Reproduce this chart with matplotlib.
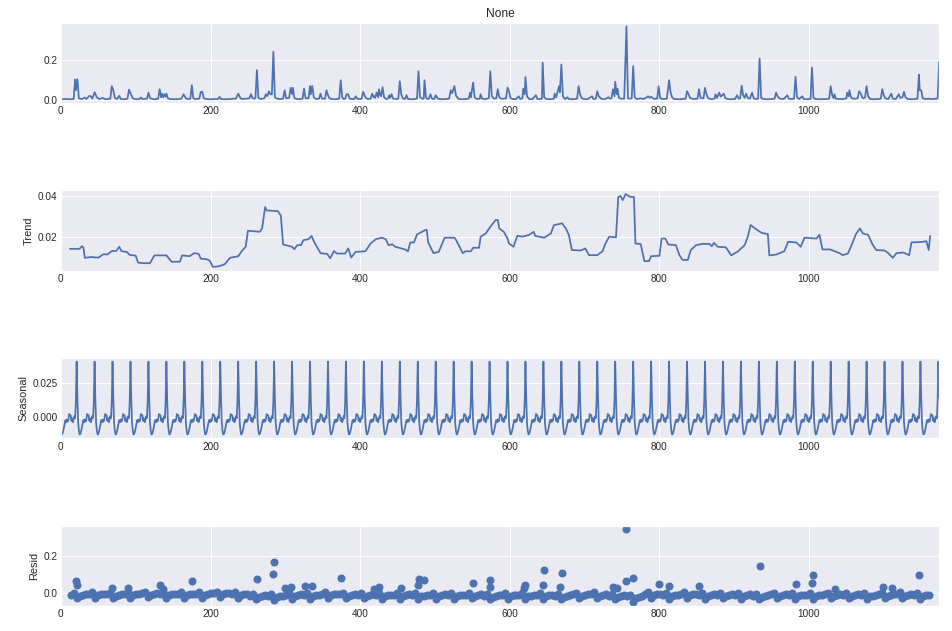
import matplotlib
matplotlib.use("Agg")
import matplotlib.pyplot as plt
import numpy as np
import seaborn as sns

# ---- data ----
n_obs = 1175
x_ticks = [0, 200, 400, 600, 800, 1000]
panel_labels = ["", "Trend", "Seasonal", "Resid"]
title = "None"
y_ticks = [[0.0, 0.2], [0.02, 0.04], [0.0, 0.025], [0.0, 0.2]]
y_ticklabels = [["0.0", "0.2"], ["0.02", "0.04"], ["0.000", "0.025"], ["0.0", "0.2"]]

# observed series (x, value)
observed = [
    (0, 0.005), (6, 0.006), (12, 0.005), (17, 0.006), (19, 0.103), (20, 0.050), (22, 0.105), (24, 0.010),
    (28, 0.006), (32, 0.014), (34, 0.006), (38, 0.022), (40, 0.020), (42, 0.008), (45, 0.040), (48, 0.015),
    (51, 0.006), (56, 0.012), (59, 0.005), (63, 0.007), (66, 0.008), (68, 0.070), (70, 0.050), (72, 0.012),
    (75, 0.006), (78, 0.022), (80, 0.006), (85, 0.005), (89, 0.008), (91, 0.053), (93, 0.035), (96, 0.010),
    (99, 0.006), (104, 0.005), (107, 0.014), (109, 0.006), (115, 0.008), (117, 0.038), (119, 0.012), (122, 0.006),
    (126, 0.005), (130, 0.008), (132, 0.055), (134, 0.015), (135, 0.033), (137, 0.015), (138, 0.030), (140, 0.018),
    (141, 0.033), (143, 0.010), (146, 0.006), (152, 0.005), (157, 0.006), (161, 0.008), (164, 0.030), (167, 0.010),
    (170, 0.006), (173, 0.008), (175, 0.075), (177, 0.010), (180, 0.006), (185, 0.008), (187, 0.042), (189, 0.042),
    (191, 0.010), (194, 0.006), (200, 0.005), (206, 0.006), (210, 0.006), (212, 0.017), (214, 0.006), (220, 0.005),
    (226, 0.006), (230, 0.008), (234, 0.008), (237, 0.033), (240, 0.010), (243, 0.006), (248, 0.008), (252, 0.010),
    (254, 0.030), (256, 0.012), (258, 0.008), (260, 0.010), (262, 0.150), (264, 0.012), (267, 0.006), (272, 0.010),
    (274, 0.030), (276, 0.020), (278, 0.045), (280, 0.030), (282, 0.030), (284, 0.242), (286, 0.015), (289, 0.008),
    (293, 0.006), (297, 0.008), (299, 0.050), (301, 0.010), (305, 0.012), (307, 0.062), (309, 0.030), (310, 0.062),
    (312, 0.012), (315, 0.006), (319, 0.006), (323, 0.008), (325, 0.058), (327, 0.010), (331, 0.010), (333, 0.071),
    (334, 0.030), (336, 0.071), (338, 0.015), (341, 0.006), (345, 0.008), (347, 0.033), (349, 0.008), (353, 0.008),
    (355, 0.050), (357, 0.025), (359, 0.010), (362, 0.006), (367, 0.005), (372, 0.008), (374, 0.100), (376, 0.015),
    (378, 0.006), (380, 0.008), (382, 0.030), (384, 0.030), (386, 0.008), (390, 0.006), (392, 0.006), (394, 0.020),
    (396, 0.008), (400, 0.006), (402, 0.008), (404, 0.042), (407, 0.015), (410, 0.006), (414, 0.008), (416, 0.033),
    (418, 0.015), (419, 0.020), (420, 0.012), (422, 0.038), (424, 0.015), (425, 0.055), (427, 0.025), (428, 0.020),
    (430, 0.065), (432, 0.015), (435, 0.006), (437, 0.008), (439, 0.025), (440, 0.012), (442, 0.030), (444, 0.008),
    (448, 0.006), (451, 0.008), (453, 0.095), (455, 0.030), (457, 0.010), (460, 0.006), (462, 0.025), (464, 0.006),
    (470, 0.005), (476, 0.008), (478, 0.145), (480, 0.015), (483, 0.008), (485, 0.008), (486, 0.100), (488, 0.015),
    (490, 0.006), (492, 0.008), (494, 0.030), (496, 0.008), (499, 0.006), (501, 0.025), (504, 0.008), (509, 0.005),
    (514, 0.006), (519, 0.008), (521, 0.050), (523, 0.035), (526, 0.071), (528, 0.025), (531, 0.008), (536, 0.005),
    (541, 0.006), (545, 0.008), (547, 0.038), (548, 0.015), (551, 0.088), (553, 0.015), (556, 0.006), (560, 0.008),
    (561, 0.030), (563, 0.008), (567, 0.006), (572, 0.010), (574, 0.145), (576, 0.020), (579, 0.008), (582, 0.010),
    (584, 0.055), (586, 0.015), (589, 0.008), (592, 0.008), (595, 0.010), (597, 0.063), (599, 0.045), (601, 0.012),
    (604, 0.006), (608, 0.005), (612, 0.020), (614, 0.006), (617, 0.010), (618, 0.058), (620, 0.030), (621, 0.116),
    (623, 0.020), (626, 0.006), (630, 0.005), (635, 0.025), (637, 0.006), (640, 0.006), (643, 0.008), (644, 0.187),
    (646, 0.015), (649, 0.006), (654, 0.005), (659, 0.008), (660, 0.033), (662, 0.015), (666, 0.070), (667, 0.040),
    (669, 0.178), (671, 0.020), (674, 0.006), (677, 0.015), (679, 0.006), (684, 0.005), (690, 0.008), (692, 0.070),
    (694, 0.030), (696, 0.012), (699, 0.006), (704, 0.005), (710, 0.020), (712, 0.006), (715, 0.008), (717, 0.045),
    (719, 0.020), (722, 0.008), (727, 0.005), (732, 0.015), (734, 0.008), (736, 0.010), (738, 0.055), (740, 0.020),
    (741, 0.092), (743, 0.030), (744, 0.057), (746, 0.012), (749, 0.008), (753, 0.008), (756, 0.368), (758, 0.010),
    (761, 0.008), (763, 0.010), (765, 0.170), (767, 0.015), (770, 0.006), (775, 0.010), (778, 0.006), (782, 0.012),
    (785, 0.020), (787, 0.012), (789, 0.018), (792, 0.008), (797, 0.008), (799, 0.070), (801, 0.010), (805, 0.006),
    (810, 0.008), (813, 0.100), (815, 0.040), (817, 0.015), (820, 0.006), (826, 0.005), (831, 0.006), (835, 0.008),
    (837, 0.045), (839, 0.030), (841, 0.012), (845, 0.006), (851, 0.008), (853, 0.055), (855, 0.012), (859, 0.010),
    (861, 0.062), (863, 0.030), (865, 0.012), (868, 0.006), (871, 0.006), (874, 0.010), (875, 0.030), (877, 0.012),
    (880, 0.038), (882, 0.018), (886, 0.033), (888, 0.012), (891, 0.006), (896, 0.005), (901, 0.006), (904, 0.025),
    (906, 0.008), (908, 0.010), (910, 0.073), (912, 0.025), (914, 0.012), (916, 0.033), (918, 0.012), (921, 0.008),
    (924, 0.038), (926, 0.010), (929, 0.006), (932, 0.008), (934, 0.208), (936, 0.012), (939, 0.006), (944, 0.005),
    (950, 0.006), (954, 0.008), (956, 0.038), (958, 0.020), (961, 0.008), (966, 0.006), (971, 0.025), (973, 0.008),
    (977, 0.006), (980, 0.008), (982, 0.117), (984, 0.015), (987, 0.006), (991, 0.020), (993, 0.006), (998, 0.005),
    (1002, 0.006), (1004, 0.163), (1006, 0.012), (1009, 0.006), (1014, 0.005), (1020, 0.006), (1024, 0.006),
    (1027, 0.008), (1029, 0.070), (1031, 0.025), (1033, 0.010), (1034, 0.030), (1036, 0.008), (1041, 0.006),
    (1046, 0.006), (1050, 0.010), (1051, 0.038), (1053, 0.020), (1054, 0.050), (1056, 0.015), (1059, 0.008),
    (1062, 0.008), (1065, 0.010), (1067, 0.045), (1069, 0.035), (1071, 0.015), (1073, 0.010), (1075, 0.015),
    (1077, 0.070), (1079, 0.020), (1082, 0.006), (1087, 0.005), (1092, 0.006), (1096, 0.008), (1098, 0.055),
    (1100, 0.025), (1102, 0.010), (1106, 0.006), (1110, 0.033), (1112, 0.008), (1116, 0.006), (1120, 0.030),
    (1122, 0.012), (1125, 0.015), (1127, 0.042), (1129, 0.015), (1132, 0.006), (1137, 0.005), (1141, 0.006),
    (1145, 0.008), (1147, 0.128), (1148, 0.050), (1150, 0.050), (1152, 0.010), (1156, 0.006), (1160, 0.008),
    (1164, 0.006), (1168, 0.007), (1171, 0.008), (1172, 0.010), (1174, 0.190),
]

# trend (x, value)
trend = [
    (12, 0.0143), (25, 0.0143), (28, 0.0156), (30, 0.0150), (32, 0.0099), (40, 0.0103), (50, 0.0100), (57, 0.0117),
    (62, 0.0115), (68, 0.0132), (74, 0.0133), (78, 0.0153), (81, 0.0131), (88, 0.0128), (92, 0.0113), (100, 0.0110),
    (103, 0.0076), (110, 0.0073), (119, 0.0073), (125, 0.0111), (141, 0.0111), (148, 0.0080), (159, 0.0080),
    (162, 0.0111), (172, 0.0107), (178, 0.0122), (184, 0.0119), (187, 0.0095), (195, 0.0092), (199, 0.0085),
    (203, 0.0055), (211, 0.0058), (219, 0.0068), (226, 0.0099), (237, 0.0107), (242, 0.0133), (247, 0.0153),
    (250, 0.0231), (266, 0.0226), (269, 0.0244), (273, 0.0346), (275, 0.0330), (287, 0.0327), (290, 0.0327),
    (294, 0.0304), (297, 0.0164), (309, 0.0153), (312, 0.0141), (316, 0.0161), (321, 0.0161), (324, 0.0185),
    (331, 0.0190), (335, 0.0206), (338, 0.0180), (347, 0.0122), (356, 0.0118), (360, 0.0097), (365, 0.0132),
    (369, 0.0120), (380, 0.0120), (384, 0.0145), (388, 0.0101), (394, 0.0128), (407, 0.0131), (414, 0.0169),
    (421, 0.0190), (429, 0.0197), (434, 0.0190), (438, 0.0161), (443, 0.0165), (447, 0.0153), (460, 0.0140),
    (464, 0.0131), (467, 0.0174), (472, 0.0174), (476, 0.0213), (487, 0.0234), (489, 0.0236), (491, 0.0174),
    (498, 0.0122), (505, 0.0128), (513, 0.0197), (525, 0.0197), (527, 0.0194), (534, 0.0145), (537, 0.0122),
    (541, 0.0131), (548, 0.0131), (551, 0.0148), (559, 0.0148), (561, 0.0202), (568, 0.0218), (574, 0.0250),
    (581, 0.0283), (584, 0.0283), (586, 0.0242), (592, 0.0226), (597, 0.0193), (599, 0.0169), (605, 0.0153),
    (610, 0.0206), (617, 0.0202), (626, 0.0211), (632, 0.0226), (634, 0.0206), (646, 0.0197), (655, 0.0218),
    (659, 0.0258), (670, 0.0267), (675, 0.0242), (679, 0.0211), (683, 0.0137), (695, 0.0135), (701, 0.0145),
    (706, 0.0112), (717, 0.0112), (724, 0.0131), (728, 0.0169), (733, 0.0202), (742, 0.0199), (745, 0.0395),
    (748, 0.0400), (751, 0.0380), (755, 0.0410), (760, 0.0397), (766, 0.0395), (768, 0.0169), (775, 0.0166),
    (780, 0.0083), (786, 0.0083), (789, 0.0107), (800, 0.0109), (803, 0.0193), (808, 0.0193), (812, 0.0164),
    (822, 0.0161), (827, 0.0111), (831, 0.0089), (838, 0.0089), (842, 0.0137), (849, 0.0161), (858, 0.0167),
    (867, 0.0167), (870, 0.0155), (873, 0.0172), (878, 0.0153), (889, 0.0150), (896, 0.0111), (905, 0.0130),
    (914, 0.0161), (918, 0.0200), (922, 0.0259), (929, 0.0239), (937, 0.0220), (945, 0.0215), (947, 0.0111),
    (956, 0.0115), (967, 0.0131), (972, 0.0177), (983, 0.0174), (989, 0.0153), (994, 0.0197), (1010, 0.0193),
    (1014, 0.0211), (1018, 0.0140), (1028, 0.0140), (1041, 0.0122), (1045, 0.0112), (1052, 0.0120), (1056, 0.0153),
    (1063, 0.0216), (1068, 0.0242), (1072, 0.0218), (1079, 0.0211), (1085, 0.0164), (1090, 0.0137), (1101, 0.0135),
    (1106, 0.0122), (1112, 0.0099), (1117, 0.0122), (1126, 0.0125), (1134, 0.0112), (1137, 0.0174), (1152, 0.0177),
    (1157, 0.0180), (1160, 0.0137), (1161, 0.0170), (1162, 0.0206),
]

# one seasonal cycle (period 24), starting at index 0
seasonal_cycle = [-0.010, -0.013, -0.0125, -0.0105, -0.008, -0.005, -0.0025, -0.004, -0.002, -0.0035, -0.002, 0.002,
                  0.0015, 0.001, -0.003, -0.001, -0.004, -0.002, 0.0005, -0.001, 0.012, 0.0405, 0.014, -0.004]

# residual band, every 4th index from 13 (one row per seasonal cycle)
resid_start, resid_step = 13, 4
resid_band = [
    [-0.006, 0.002, -0.026, -0.012, -0.007, -0.004], [-0.002, 0.010, -0.022, -0.008, -0.003, -0.001],
    [-0.005, 0.004, -0.026, -0.011, -0.006, -0.003], [-0.004, 0.007, -0.024, -0.010, -0.005, -0.002],
    [0.000, 0.009, -0.020, -0.006, -0.001, 0.002], [-0.002, 0.008, -0.023, -0.008, -0.004, -0.001],
    [-0.003, 0.007, -0.022, -0.009, -0.003, -0.001], [-0.002, 0.009, -0.023, -0.008, -0.004, 0.000],
    [0.002, 0.010, -0.018, -0.005, 0.001, 0.003], [-0.004, 0.006, -0.024, -0.010, -0.005, -0.002],
    [-0.012, -0.002, -0.032, -0.018, -0.014, -0.010], [-0.013, -0.003, -0.034, -0.020, -0.015, -0.011],
    [-0.007, 0.003, -0.027, -0.013, -0.008, -0.005], [-0.008, 0.002, -0.028, -0.014, -0.009, -0.006],
    [-0.004, 0.006, -0.024, -0.010, -0.005, -0.002], [-0.005, 0.005, -0.025, -0.011, -0.006, -0.003],
    [-0.006, 0.004, -0.026, -0.012, -0.007, -0.004], [-0.009, 0.001, -0.029, -0.015, -0.010, -0.007],
    [-0.007, 0.003, -0.027, -0.013, -0.008, -0.005], [-0.010, 0.000, -0.030, -0.016, -0.011, -0.008],
    [-0.007, 0.004, -0.027, -0.012, -0.008, -0.005], [-0.008, 0.002, -0.028, -0.014, -0.009, -0.006],
    [-0.006, 0.004, -0.026, -0.012, -0.007, -0.004], [-0.012, -0.002, -0.032, -0.018, -0.013, -0.010],
    [-0.009, 0.001, -0.029, -0.015, -0.010, -0.007], [-0.010, 0.000, -0.030, -0.016, -0.011, -0.008],
    [-0.009, 0.002, -0.029, -0.015, -0.010, -0.007], [-0.011, -0.001, -0.031, -0.017, -0.012, -0.009],
    [-0.005, 0.005, -0.025, -0.011, -0.006, -0.003], [-0.005, 0.006, -0.025, -0.011, -0.006, -0.003],
    [-0.012, -0.002, -0.032, -0.018, -0.013, -0.010], [-0.016, -0.006, -0.046, -0.022, -0.017, -0.014],
    [-0.003, 0.007, -0.023, -0.009, -0.004, -0.001], [-0.008, 0.002, -0.028, -0.014, -0.009, -0.006],
    [-0.004, 0.006, -0.024, -0.010, -0.005, -0.002], [-0.007, 0.003, -0.027, -0.013, -0.008, -0.005],
    [-0.006, 0.004, -0.026, -0.012, -0.007, -0.004], [-0.007, 0.003, -0.027, -0.013, -0.008, -0.005],
    [-0.011, -0.001, -0.031, -0.017, -0.012, -0.009], [-0.005, 0.005, -0.025, -0.011, -0.006, -0.003],
    [-0.008, 0.002, -0.028, -0.014, -0.009, -0.006], [-0.009, 0.001, -0.029, -0.015, -0.010, -0.007],
    [-0.005, 0.005, -0.025, -0.011, -0.006, -0.003], [-0.006, 0.004, -0.026, -0.012, -0.007, -0.004],
    [-0.010, 0.000, -0.030, -0.016, -0.011, -0.008], [-0.005, 0.005, -0.025, -0.011, -0.006, -0.003],
    [-0.005, 0.006, -0.025, -0.011, -0.006, -0.003], [-0.008, 0.002, -0.028, -0.014, -0.009, -0.006],
]

# residual outliers (x, value)
resid_outliers = [
    (20, 0.064), (22, 0.047), (68, 0.031), (90, 0.031), (133, 0.044), (136, 0.023), (175, 0.064), (262, 0.079),
    (284, 0.105), (285, 0.168), (300, 0.030), (307, 0.035), (326, 0.038), (335, 0.038), (374, 0.084),
    (418, 0.023), (425, 0.035), (454, 0.031), (479, 0.079), (478, 0.044), (486, 0.073), (551, 0.058),
    (574, 0.073), (573, 0.035), (619, 0.030), (621, 0.047), (645, 0.044), (646, 0.126), (667, 0.035),
    (670, 0.110), (738, 0.035), (744, 0.030), (755, 0.068), (756, 0.342), (765, 0.084), (800, 0.052),
    (813, 0.038), (853, 0.038), (935, 0.147), (982, 0.052), (1004, 0.058), (1005, 0.100), (1035, 0.023),
    (1099, 0.035), (1111, 0.030), (1147, 0.100),
]

# ---- plotting ----
sns.set_theme(style="darkgrid")
plt.rcParams["font.family"] = ["Liberation Sans", "DejaVu Sans"]
blue = "#4C72B0"

fig, axes = plt.subplots(4, 1, figsize=(952 / 72, 631 / 72), dpi=72)
fig.subplots_adjust(left=0.064, right=0.9865, top=0.964, bottom=0.04, hspace=1.09)

ox, oy = zip(*observed)
axes[0].plot(ox, oy, color=blue, lw=1.75)
axes[0].set_title(title, fontsize=12, color=".15")

tx, ty = zip(*trend)
axes[1].plot(tx, ty, color=blue, lw=1.75)

season = np.tile(seasonal_cycle, n_obs // len(seasonal_cycle) + 1)[:n_obs]
axes[2].plot(np.arange(n_obs), season, color=blue, lw=1.75)

band = np.ravel(resid_band)
band_x = resid_start + resid_step * np.arange(len(band))
rx, ry = zip(*resid_outliers)
axes[3].plot(np.concatenate([band_x, rx]), np.concatenate([band, ry]), marker="o", linestyle="none",
             color=blue, markersize=7)
axes[3].plot((0, n_obs - 1), (0, 0), color="#000000", zorder=-3, lw=1)

for i, ax in enumerate(axes):
    ax.set_xlim(0, n_obs - 1)
    ax.set_xticks(x_ticks)
    ax.set_yticks(y_ticks[i])
    ax.set_yticklabels(y_ticklabels[i])
    ax.tick_params(labelsize=10, colors=".15", length=0)
    if panel_labels[i]:
        ax.set_ylabel(panel_labels[i], fontsize=11, color=".15")

fig.savefig("out.png", dpi=72)
